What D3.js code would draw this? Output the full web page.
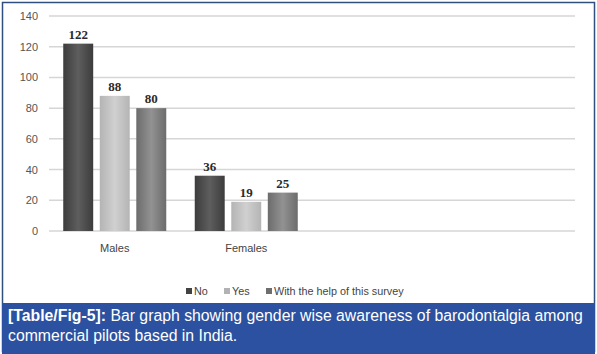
<!DOCTYPE html>
<meta charset="utf-8">
<script src="https://d3js.org/d3.v7.min.js"></script>
<style>
  body { margin: 0; background: #fff; }
</style>
<div id="chart"></div>
<script>

// data
var categories = ["Males", "Females", "", ""]
var series = ["No", "Yes", "With the help of this survey"]
var noVals = [122, 36]
var yesVals = [88, 19]
var withVals = [80, 25]
var yTicks = [0, 20, 40, 60, 80, 100, 120, 140]

var W = 597, H = 354

var svg = d3.select("#chart").append("svg")
  .attr("width", W)
  .attr("height", H)

// bar gradients (dark edges, lighter middle)
var shades = [
  {id: "gNo", edge: "#3c3c3c", mid: "#5e5e5e", key: "#424242"},
  {id: "gYes", edge: "#b4b4b4", mid: "#d0d0d0", key: "#b2b2b2"},
  {id: "gWith", edge: "#6c6c6c", mid: "#929292", key: "#6e6e6e"}
]
var defs = svg.append("defs")
shades.forEach(function(s) {
  var g = defs.append("linearGradient").attr("id", s.id)
    .attr("x1", "0%").attr("x2", "100%").attr("y1", "0%").attr("y2", "0%")
  g.append("stop").attr("offset", "0%").attr("stop-color", s.edge)
  g.append("stop").attr("offset", "50%").attr("stop-color", s.mid)
  g.append("stop").attr("offset", "100%").attr("stop-color", s.edge)
})

// outer frame
svg.append("rect")
  .attr("x", 2.5).attr("y", 2.5)
  .attr("width", W - 5).attr("height", H - 5)
  .attr("fill", "#fff")
  .attr("stroke", "#2f4f7f")
  .attr("stroke-width", 1.5)

// scales
var x = d3.scaleBand()
  .domain(d3.range(categories.length))
  .range([49, 575])

var xSub = d3.scaleBand()
  .domain(series)
  .range([0, x.bandwidth()])
  .paddingInner(0.18)
  .paddingOuter(0.39)

var y = d3.scaleLinear()
  .domain([0, 140])
  .range([231, 16])

// grid lines
svg.append("g")
  .selectAll("line")
  .data(yTicks)
  .enter()
  .append("line")
    .attr("x1", 49)
    .attr("x2", 575)
    .attr("y1", function(d){ return y(d) })
    .attr("y2", function(d){ return y(d) })
    .attr("stroke", "#d6d6d6")
    .attr("stroke-width", 1.5)

// y axis labels
svg.append("g")
  .selectAll("text")
  .data(yTicks)
  .enter()
  .append("text")
    .attr("x", 38)
    .attr("y", function(d){ return y(d) + 4 })
    .attr("text-anchor", "end")
    .attr("font-family", "Liberation Sans, Arial, sans-serif")
    .attr("font-size", 11)
    .attr("fill", "#555")
    .text(function(d){ return d })

// bars
var valueSets = [noVals, yesVals, withVals]
var bars = []
valueSets.forEach(function(vals, si) {
  vals.forEach(function(v, ci) {
    bars.push({cat: ci, s: si, v: v})
  })
})

svg.append("g")
  .selectAll("rect")
  .data(bars)
  .enter()
  .append("rect")
    .attr("x", function(d){ return x(d.cat) + xSub(series[d.s]) })
    .attr("y", function(d){ return y(d.v) })
    .attr("width", xSub.bandwidth())
    .attr("height", function(d){ return y(0) - y(d.v) })
    .attr("fill", function(d){ return "url(#" + shades[d.s].id + ")" })

// value labels
svg.append("g")
  .selectAll("text")
  .data(bars)
  .enter()
  .append("text")
    .attr("x", function(d){ return x(d.cat) + xSub(series[d.s]) + xSub.bandwidth() / 2 })
    .attr("y", function(d){ return y(d.v) - 5 })
    .attr("text-anchor", "middle")
    .attr("font-family", "Liberation Serif, Times New Roman, serif")
    .attr("font-weight", "bold")
    .attr("font-size", 13)
    .attr("fill", "#2a2a2a")
    .text(function(d){ return d.v })

// category labels
svg.append("g")
  .selectAll("text")
  .data(categories.filter(function(c){ return c !== "" }))
  .enter()
  .append("text")
    .attr("x", function(d, i){ return x(i) + x.bandwidth() / 2 })
    .attr("y", 252)
    .attr("text-anchor", "middle")
    .attr("font-family", "Liberation Sans, Arial, sans-serif")
    .attr("font-size", 11)
    .attr("fill", "#444")
    .text(function(d){ return d })

// legend
var legendX = [186, 224, 266]
var legend = svg.append("g")
  .selectAll("g")
  .data(series)
  .enter()
  .append("g")
    .attr("transform", function(d, i){ return "translate(" + legendX[i] + ",292)" })
legend.append("rect")
  .attr("x", 0).attr("y", -4)
  .attr("width", 6).attr("height", 6)
  .attr("fill", function(d, i){ return shades[i].key })
legend.append("text")
  .attr("x", 8)
  .attr("y", 3)
  .attr("font-family", "Liberation Sans, Arial, sans-serif")
  .attr("font-size", 10.8)
  .attr("fill", "#444")
  .text(function(d){ return d })

// caption box
svg.append("rect")
  .attr("x", 2).attr("y", 303)
  .attr("width", W - 4).attr("height", H - 303)
  .attr("fill", "#2b51a0")

var cap = svg.append("text")
  .attr("font-family", "Liberation Sans, Arial, sans-serif")
  .attr("font-size", 15.8)
  .attr("fill", "#fff")
var l1 = cap.append("tspan").attr("x", 8).attr("y", 321)
l1.append("tspan").attr("font-weight", "bold").text("[Table/Fig-5]:")
l1.append("tspan").text(" Bar graph showing gender wise awareness of barodontalgia among")
cap.append("tspan").attr("x", 8).attr("y", 341)
  .text("commercial pilots based in India.")

</script>
